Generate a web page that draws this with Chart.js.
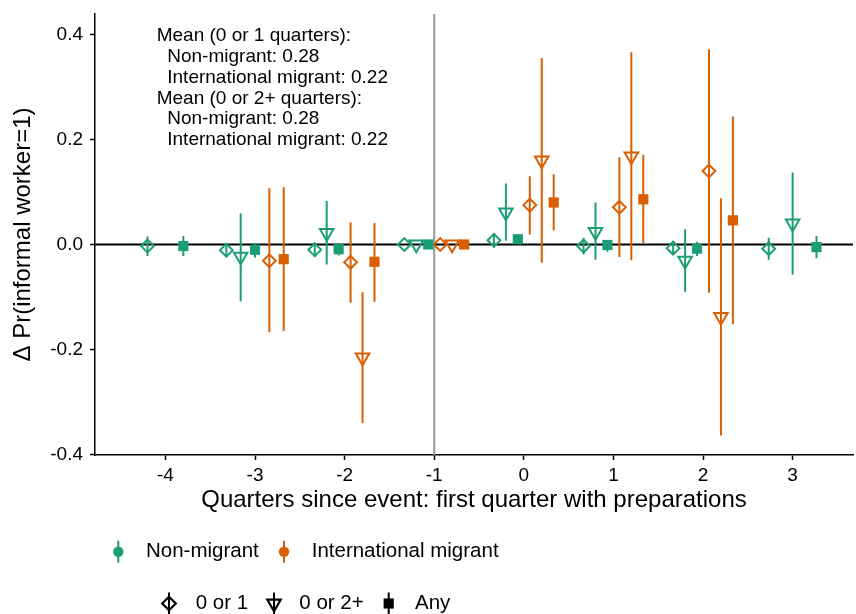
<!DOCTYPE html>
<html>
<head>
<meta charset="utf-8">
<script src="https://cdn.jsdelivr.net/npm/chart.js@4.4.1/dist/chart.umd.min.js"></script>
<style>
  html, body { margin: 0; padding: 0; background: #ffffff; }
  canvas { display: block; }
</style>
</head>
<body>
<canvas id="chart" width="856" height="614"></canvas>
<script>
// Event-study estimates: change in Pr(informal worker) by quarter relative to
// the first quarter with migration preparations (reference quarter = -1).
const quarters = [-4, -3, -2, -1, 0, 1, 2, 3];
const xTickValues = [-4, -3, -2, -1, 0, 1, 2, 3];
const yTickValues = [-0.4, -0.2, 0, 0.2, 0.4];

const groupNames = ['Non-migrant', 'International migrant'];
const windowNames = ['0 or 1', '0 or 2+', 'Any'];

// Non-migrant, preparations lasting 0 or 1 quarters
const nonMig01Est = [-0.003, -0.011, -0.010, 0, 0.008, -0.003, -0.007, -0.008];
const nonMig01Lo  = [-0.022, -0.024, -0.024, 0, -0.006, -0.019, -0.019, -0.029];
const nonMig01Hi  = [0.015, 0.002, 0.004, 0, 0.022, 0.013, 0.006, 0.013];

// Non-migrant, 0 or 2+ quarters
const nonMig02Est = [null, -0.023, 0.022, 0, 0.061, 0.024, -0.031, 0.040];
const nonMig02Lo  = [null, -0.108, -0.038, 0, 0.007, -0.029, -0.090, -0.057];
const nonMig02Hi  = [null, 0.059, 0.083, 0, 0.116, 0.080, 0.029, 0.137];

// Non-migrant, any duration
const nonMigAnyEst = [-0.003, -0.010, -0.009, 0, 0.010, -0.001, -0.008, -0.005];
const nonMigAnyLo  = [-0.022, -0.025, -0.021, 0, 0.001, -0.014, -0.022, -0.026];
const nonMigAnyHi  = [0.016, 0.003, 0.003, 0, 0.019, 0.007, 0.005, 0.016];

// International migrant, 0 or 1 quarters
const intMig01Est = [null, -0.031, -0.034, 0, 0.075, 0.071, 0.140, null];
const intMig01Lo  = [null, -0.167, -0.111, 0, 0.019, -0.024, -0.092, null];
const intMig01Hi  = [null, 0.107, 0.042, 0, 0.130, 0.166, 0.372, null];

// International migrant, 0 or 2+ quarters
const intMig02Est = [null, null, -0.215, 0, 0.160, 0.168, -0.138, null];
const intMig02Lo  = [null, null, -0.340, 0, -0.035, -0.030, -0.364, null];
const intMig02Hi  = [null, null, -0.091, 0, 0.355, 0.366, 0.088, null];

// International migrant, any duration
const intMigAnyEst = [null, -0.028, -0.033, 0, 0.080, 0.086, 0.046, null];
const intMigAnyLo  = [null, -0.165, -0.109, 0, 0.027, 0.003, -0.152, null];
const intMigAnyHi  = [null, 0.109, 0.041, 0, 0.134, 0.171, 0.244, null];

const meanLines = [
  'Mean (0 or 1 quarters):',
  '  Non-migrant: 0.28',
  '  International migrant: 0.22',
  'Mean (0 or 2+ quarters):',
  '  Non-migrant: 0.28',
  '  International migrant: 0.22'
];

// ---- styling ----
const FONT = '"Liberation Sans", Arial, Helvetica, sans-serif';
const groupColors = ['#1B9E77', '#D95F02'];
const windowStyles = [
  { pointStyle: 'rectRot', radius: 6.4, rotation: 0, hollow: true, borderWidth: 2 },
  { pointStyle: 'triangle', radius: 7.8, rotation: 180, hollow: true, borderWidth: 2 },
  { pointStyle: 'rect', radius: 7.2, rotation: 0, hollow: false, borderWidth: 0 }
];
const legendStyles = [
  { pointStyle: 'rectRot', radius: 6.8, rotation: 0, hollow: true, borderWidth: 2.2 },
  { pointStyle: 'triangle', radius: 7.8, rotation: 180, hollow: true, borderWidth: 2.2 },
  { pointStyle: 'rect', radius: 7.2, rotation: 0, hollow: false, borderWidth: 0 }
];
const DODGE = 0.8;
const X_MIN = -4.786, X_MAX = 3.674;
const Y_MIN = -0.401, Y_MAX = 0.439;

const series = [
  { g: 0, w: 0, est: nonMig01Est, lo: nonMig01Lo, hi: nonMig01Hi },
  { g: 0, w: 1, est: nonMig02Est, lo: nonMig02Lo, hi: nonMig02Hi },
  { g: 0, w: 2, est: nonMigAnyEst, lo: nonMigAnyLo, hi: nonMigAnyHi },
  { g: 1, w: 0, est: intMig01Est, lo: intMig01Lo, hi: intMig01Hi },
  { g: 1, w: 1, est: intMig02Est, lo: intMig02Lo, hi: intMig02Hi },
  { g: 1, w: 2, est: intMigAnyEst, lo: intMigAnyLo, hi: intMigAnyHi }
];

// Side-by-side dodging among the estimates present in each quarter
function dodgedX(qi, si) {
  const present = series.map((s, i) => (s.est[qi] !== null ? i : -1)).filter(i => i >= 0);
  const n = present.length;
  const k = present.indexOf(si);
  return quarters[qi] + (k - (n - 1) / 2) * (DODGE / n);
}

const datasets = [];

// reference lines
datasets.push({
  type: 'line', label: 'zero', order: 10,
  data: [{ x: X_MIN, y: 0 }, { x: X_MAX, y: 0 }],
  borderColor: '#000000', borderWidth: 1.8, pointRadius: 0, showLine: true
});
datasets.push({
  type: 'line', label: 'event', order: 9,
  data: [{ x: -1, y: Y_MIN }, { x: -1, y: Y_MAX }],
  borderColor: '#9a9a9a', borderWidth: 2, pointRadius: 0, showLine: true
});

// confidence intervals
series.forEach((s, si) => {
  const pts = [];
  quarters.forEach((q, qi) => {
    if (s.est[qi] === null) return;
    const x = dodgedX(qi, si);
    pts.push({ x, y: s.lo[qi] }, { x, y: s.hi[qi] }, { x, y: null });
  });
  datasets.push({
    type: 'line', label: groupNames[s.g] + ' ' + windowNames[s.w] + ' CI', order: 5,
    data: pts, borderColor: groupColors[s.g], borderWidth: 2,
    pointRadius: 0, showLine: true, spanGaps: false
  });
});

// point estimates
series.forEach((s, si) => {
  const st = windowStyles[s.w];
  const pts = [];
  quarters.forEach((q, qi) => {
    if (s.est[qi] === null) return;
    pts.push({ x: dodgedX(qi, si), y: s.est[qi] });
  });
  datasets.push({
    type: 'scatter', label: groupNames[s.g] + ' ' + windowNames[s.w], order: 1,
    data: pts,
    pointStyle: st.pointStyle, pointRadius: st.radius, pointRotation: st.rotation,
    borderColor: groupColors[s.g], pointBorderWidth: st.borderWidth, borderWidth: st.borderWidth,
    backgroundColor: st.hollow ? 'rgba(0,0,0,0)' : groupColors[s.g],
    showLine: false
  });
});

// annotation block with sample means
const meansPlugin = {
  id: 'means',
  afterDatasetsDraw(chart) {
    const { ctx, chartArea } = chart;
    ctx.save();
    ctx.font = '19px ' + FONT;
    ctx.fillStyle = '#000';
    ctx.textAlign = 'left';
    ctx.textBaseline = 'middle';
    meanLines.forEach((t, i) => {
      ctx.fillText(t, chartArea.left + 61.7, chartArea.top + 21.5 + i * 20.94);
    });
    ctx.restore();
  }
};

// two-row legend below the x axis title
const legendPlugin = {
  id: 'twoRowLegend',
  afterDraw(chart) {
    const ctx = chart.ctx;
    const drawKey = (x, y, color, style) => {
      ctx.save();
      ctx.strokeStyle = color;
      ctx.lineWidth = 2;
      ctx.beginPath();
      ctx.moveTo(x, y - 11);
      ctx.lineTo(x, y + 11);
      ctx.stroke();
      ctx.fillStyle = style.hollow ? 'rgba(0,0,0,0)' : color;
      ctx.strokeStyle = color;
      ctx.lineWidth = style.borderWidth;
      Chart.helpers.drawPoint(ctx, {
        pointStyle: style.pointStyle, radius: style.radius,
        rotation: style.rotation, borderWidth: style.borderWidth
      }, x, y);
      ctx.restore();
    };
    const label = (t, x, y) => {
      ctx.save();
      ctx.font = '20.5px ' + FONT;
      ctx.fillStyle = '#000';
      ctx.textAlign = 'left';
      ctx.textBaseline = 'middle';
      ctx.fillText(t, x, y);
      ctx.restore();
    };
    const circle = { pointStyle: 'circle', radius: 5.2, rotation: 0, hollow: false, borderWidth: 0 };
    const row1 = 551.7;
    const g1x = [118.3, 284], t1x = [146, 311.7];
    groupNames.forEach((name, i) => {
      drawKey(g1x[i], row1, groupColors[i], circle);
      label(name, t1x[i], row1);
    });
    const row2 = 603.5;
    const g2x = [169, 274, 388.7], t2x = [195.7, 299.3, 415];
    windowNames.forEach((name, i) => {
      drawKey(g2x[i], row2, '#000000', legendStyles[i]);
      label(name, t2x[i], row2);
    });
  }
};

new Chart(document.getElementById('chart'), {
  type: 'scatter',
  data: { datasets },
  options: {
    responsive: false,
    animation: false,
    devicePixelRatio: 1,
    events: [],
    layout: { autoPadding: false, padding: { left: 0, right: 3, top: 14, bottom: 99 } },
    plugins: { legend: { display: false }, tooltip: { enabled: false } },
    scales: {
      x: {
        type: 'linear', min: X_MIN, max: X_MAX,
        afterBuildTicks: s => { s.ticks = xTickValues.map(v => ({ value: v })); },
        afterFit: s => { s.height = 60; s.paddingLeft = 0; s.paddingRight = 0; },
        ticks: { color: '#000', font: { family: FONT, size: 19 }, padding: 4, maxRotation: 0,
                 callback: v => String(v) },
        grid: { display: true, drawOnChartArea: false, drawTicks: true, tickLength: 5,
                tickColor: '#000', tickWidth: 1.5 },
        border: { display: true, color: '#000', width: 1.5 },
        title: { display: true, text: 'Quarters since event: first quarter with preparations',
                 color: '#000', font: { family: FONT, size: 24 }, padding: { top: 0, bottom: 0 } }
      },
      y: {
        type: 'linear', min: Y_MIN, max: Y_MAX,
        afterBuildTicks: s => { s.ticks = yTickValues.map(v => ({ value: v })); },
        afterFit: s => { s.width = 95; s.paddingTop = 0; s.paddingBottom = 0; },
        ticks: { color: '#000', font: { family: FONT, size: 19 }, padding: 7,
                 callback: v => Number(v).toFixed(1) },
        grid: { display: true, drawOnChartArea: false, drawTicks: true, tickLength: 5,
                tickColor: '#000', tickWidth: 1.5 },
        border: { display: true, color: '#000', width: 1.5 },
        title: { display: true, text: 'Δ Pr(informal worker=1)', color: '#000',
                 font: { family: FONT, size: 24 }, padding: { top: 9, bottom: 0 } }
      }
    }
  },
  plugins: [meansPlugin, legendPlugin]
});
</script>
</body>
</html>
